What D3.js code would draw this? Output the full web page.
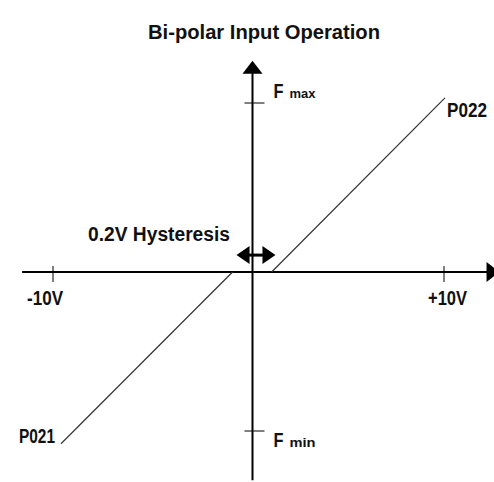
<!DOCTYPE html>
<html>
<head>
<meta charset="utf-8">
<script src="https://cdn.jsdelivr.net/npm/d3@7/dist/d3.min.js"></script>
<style>
  html, body { margin: 0; padding: 0; background: #fff; }
  svg text { font-family: "Liberation Sans", Arial, Helvetica, sans-serif; font-weight: bold; fill: #111; }
</style>
</head>
<body>
<svg id="chart" width="494" height="482"></svg>
<script>
// ---- data ----
const title = "Bi-polar Input Operation";
const xTickValues = [-10, 10];
const xTickLabels = ["-10V", "+10V"];
const yTickValues = [1, -1];           // F max, F min
const yTickLabels = [["F", "max"], ["F", "min"]];
const seriesNames = ["P022", "P021"];
const p022 = [[1.0, 0], [10.05, 1.03]];
const p021 = [[-1.0, 0], [-9.6, -1.08]];
const hysteresisLabel = "0.2V Hysteresis";
const hysteresisSpan = [-0.8, 1.2];
const hysteresisLevel = 0.1;
const xAxisExtent = [-11.55, 12.9];
const yAxisExtent = [-1.31, 1.25];

// ---- scales ----
const svg = d3.select("#chart");
const x = d3.scaleLinear().domain([-10, 0, 10]).range([53, 252.5, 444]);
const y = d3.scaleLinear().domain([-1, 0, 1]).range([431, 272, 103]);

// condensed label helper
function label(tx, ty, text, size, width, anchor) {
  return svg.append("text").attr("x", tx).attr("y", ty)
    .attr("text-anchor", anchor || "start")
    .style("font-size", size + "px")
    .attr("textLength", width).attr("lengthAdjust", "spacingAndGlyphs")
    .text(text);
}

// title
label(264, 39, title, 21, 232, "middle");

// horizontal axis
svg.append("line")
  .attr("x1", x(xAxisExtent[0])).attr("x2", x(xAxisExtent[1]) - 12)
  .attr("y1", y(0)).attr("y2", y(0))
  .attr("stroke", "#000").attr("stroke-width", 2);
const xt = x(xAxisExtent[1]);
svg.append("path")
  .attr("d", `M${xt},${y(0)} L${xt - 13},${y(0) - 10} L${xt - 13},${y(0) + 10} Z`)
  .attr("fill", "#000");

// vertical axis
svg.append("line")
  .attr("x1", x(0)).attr("x2", x(0))
  .attr("y1", y(yAxisExtent[1]) + 12).attr("y2", y(yAxisExtent[0]))
  .attr("stroke", "#000").attr("stroke-width", 2);
const yt = y(yAxisExtent[1]);
svg.append("path")
  .attr("d", `M${x(0)},${yt} L${x(0) - 10},${yt + 13} L${x(0) + 10},${yt + 13} Z`)
  .attr("fill", "#000");

// x ticks
const xLabelShift = [-8, 3.5];
xTickValues.forEach((v, i) => {
  svg.append("line").attr("x1", x(v)).attr("x2", x(v))
    .attr("y1", y(0) - 6).attr("y2", y(0) + 10)
    .attr("stroke", "#000").attr("stroke-width", 1);
  label(x(v) + xLabelShift[i], y(0) + 33, xTickLabels[i], 21, i === 0 ? 36 : 39, "middle");
});

// y ticks
yTickValues.forEach((v, i) => {
  svg.append("line").attr("x1", x(0) - 8).attr("x2", x(0) + 12)
    .attr("y1", y(v)).attr("y2", y(v))
    .attr("stroke", "#000").attr("stroke-width", 1);
  const by = y(v) + (v > 0 ? -5 : 16);
  label(x(0) + 21, by, yTickLabels[i][0], 21, 10);
  label(x(0) + 37, by, yTickLabels[i][1], 13, 26);
});

// series lines
const line = d3.line().x(d => x(d[0])).y(d => y(d[1]));
[p022, p021].forEach(s => {
  svg.append("path").attr("d", line(s))
    .attr("fill", "none").attr("stroke", "#333").attr("stroke-width", 1.2);
});
label(x(p022[1][0]) + 2, y(p022[1][1]) + 19, seriesNames[0], 21, 40);
label(x(p021[1][0]) - 6, y(p021[1][1]) - 1, seriesNames[1], 21, 36, "end");

// hysteresis double arrow
const hy = y(hysteresisLevel);
const hx0 = x(hysteresisSpan[0]), hx1 = x(hysteresisSpan[1]);
svg.append("line").attr("x1", hx0 + 10).attr("x2", hx1 - 10)
  .attr("y1", hy).attr("y2", hy).attr("stroke", "#000").attr("stroke-width", 3);
svg.append("path")
  .attr("d", `M${hx0},${hy} L${hx0 + 13},${hy - 9} L${hx0 + 13},${hy + 9} Z M${hx1},${hy} L${hx1 - 13},${hy - 9} L${hx1 - 13},${hy + 9} Z`)
  .attr("fill", "#000");
label(88, 241, hysteresisLabel, 20, 142);
</script>
</body>
</html>
